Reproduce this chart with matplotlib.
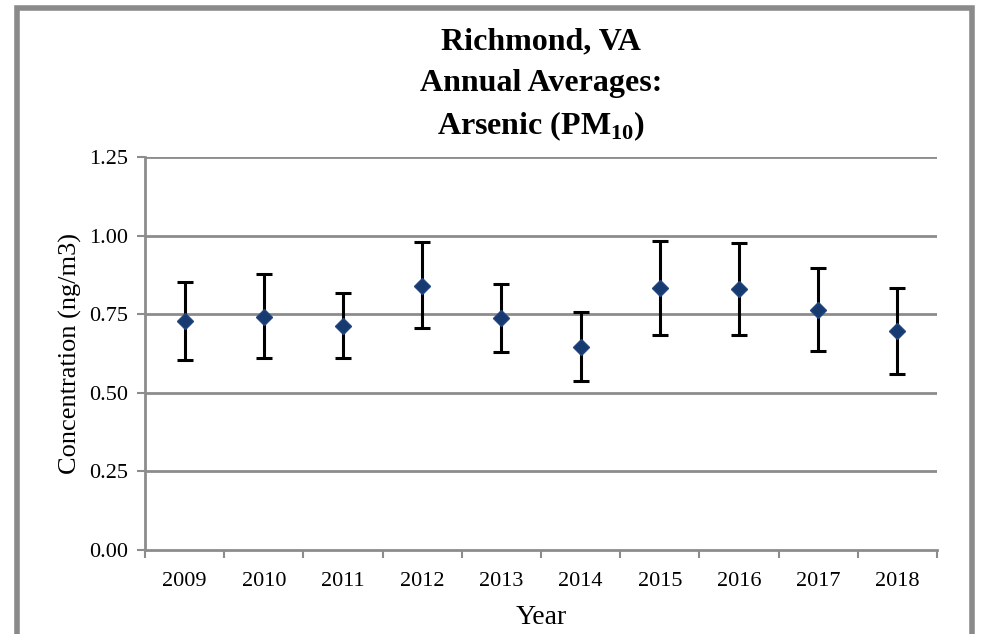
import numpy as np
import matplotlib.pyplot as plt
from matplotlib.patches import Rectangle

# Annual averages and error bar ends
years = ["2009", "2010", "2011", "2012", "2013", "2014", "2015", "2016", "2017", "2018"]
means = [0.729, 0.742, 0.712, 0.841, 0.739, 0.647, 0.832, 0.829, 0.763, 0.697]
upper = [0.852, 0.877, 0.818, 0.980, 0.847, 0.756, 0.984, 0.975, 0.896, 0.834]
lower = [0.604, 0.610, 0.610, 0.705, 0.630, 0.538, 0.684, 0.684, 0.634, 0.560]
y_ticks = [0.00, 0.25, 0.50, 0.75, 1.00, 1.25]

plt.rcParams['font.family'] = ['Liberation Serif', 'DejaVu Serif']
plt.rcParams['mathtext.fontset'] = 'custom'
plt.rcParams['mathtext.rm'] = 'Liberation Serif'
plt.rcParams['mathtext.bf'] = 'Liberation Serif:bold'
grid_gray = "#8c8c8c"

fig = plt.figure(figsize=(9.81, 6.34), dpi=100)
W, H = 981, 634
# plot area in pixel coords: x 145..937, y 157..550 (from top)
ax = fig.add_axes([145 / W, 1 - 550 / H, (937 - 145) / W, (550 - 157) / H])

x = np.arange(len(years))
yerr = [np.array(means) - np.array(lower), np.array(upper) - np.array(means)]
ax.errorbar(x, means, yerr=yerr, fmt="D", color="#173a70", markersize=8.5,
            markeredgecolor="#24467f", ecolor="black", elinewidth=2.2,
            capsize=6, capthick=2.2, zorder=3)

ax.set_xlim(-0.5, len(years) - 0.5)
ax.set_ylim(0, 1.25)
ax.set_yticks(y_ticks)
ax.set_yticklabels([f"{v:.2f}" for v in y_ticks], fontsize=16)
ax.set_xticks(x)
ax.set_xticklabels(years, fontsize=16)
ax.tick_params(axis="x", length=0, pad=16)
ax.set_xticks(np.arange(-0.5, len(years)), minor=True)
ax.tick_params(axis="x", which="minor", length=6, color=grid_gray, width=1.5, direction="out")
ax.tick_params(axis="y", length=6, color=grid_gray, width=1.5, direction="out", pad=6)

for v in y_ticks[1:]:
    ax.axhline(v, color=grid_gray, lw=2, zorder=1)

for side in ["top", "right"]:
    ax.spines[side].set_visible(False)
for side in ["left", "bottom"]:
    ax.spines[side].set_color(grid_gray)
    ax.spines[side].set_linewidth(2)

ax.set_ylabel("Concentration (ng/m3)", fontsize=19, labelpad=5)
ax.set_xlabel("Year", fontsize=20, labelpad=10)

cx = 0.5 * (145 + 937) / W
fig.text(cx, 1 - 42 / H, "Richmond, VA", ha="center", va="center",
         fontsize=23, fontweight="bold")
fig.text(cx, 1 - 84 / H, "Annual Averages:", ha="center", va="center",
         fontsize=23, fontweight="bold")
fig.text(cx, 1 - 126 / H, r"Arsenic (PM$_{\mathbf{10}}$)", ha="center",
         va="center", fontsize=23, fontweight="bold")

# gray frame around the chart
fig.patches.append(Rectangle((17 / W, -0.02), (972 - 17) / W, 1 - 8 / H + 0.02,
                             transform=fig.transFigure, fill=False,
                             edgecolor="#8a8a8a", linewidth=4))

fig.savefig("out.png", dpi=100)
